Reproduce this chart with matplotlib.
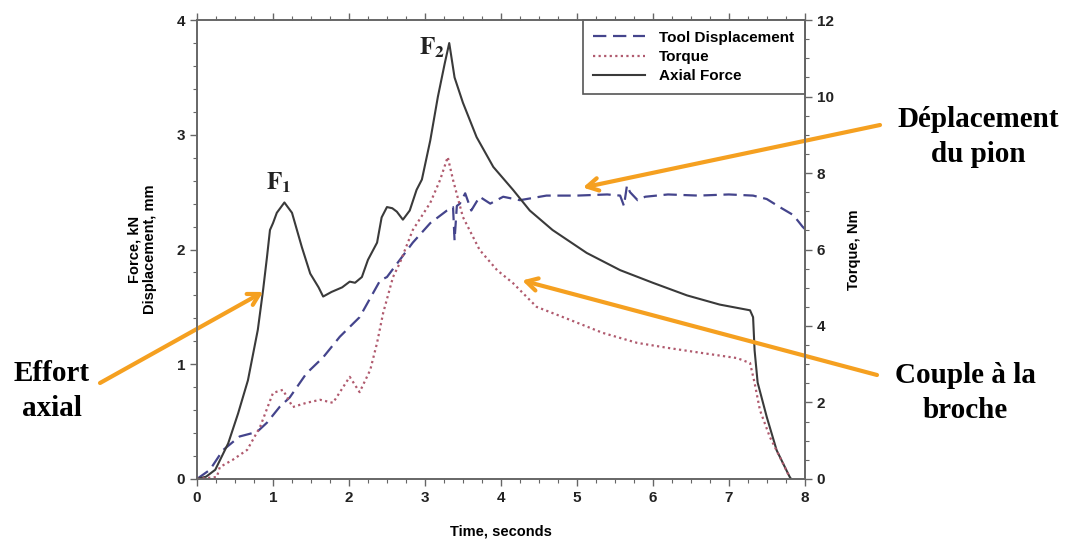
import matplotlib
matplotlib.use('Agg')
import matplotlib.pyplot as plt
from matplotlib.ticker import MultipleLocator

# Axial force (kN) vs time (s)
t_force = [0, 0.12, 0.24, 0.41, 0.54, 0.67, 0.80, 0.87, 0.92, 0.96, 1.0, 1.05, 1.15,
           1.25, 1.38, 1.49, 1.60, 1.66, 1.77, 1.91, 2.01, 2.08, 2.17, 2.25, 2.37,
           2.43, 2.50, 2.57, 2.63, 2.71, 2.80, 2.89, 2.96, 3.07, 3.17, 3.26, 3.32,
           3.39, 3.50, 3.68, 3.90, 4.16, 4.38, 4.68, 5.13, 5.57, 6.0, 6.45, 6.88,
           7.28, 7.32, 7.34, 7.38, 7.50, 7.63, 7.80, 7.82]
force = [0, 0.02, 0.08, 0.31, 0.57, 0.86, 1.30, 1.65, 1.93, 2.17, 2.23, 2.32, 2.41,
         2.32, 2.02, 1.79, 1.67, 1.59, 1.63, 1.67, 1.72, 1.71, 1.76, 1.91, 2.06,
         2.28, 2.37, 2.36, 2.33, 2.26, 2.34, 2.52, 2.61, 2.95, 3.33, 3.62, 3.80,
         3.50, 3.28, 2.98, 2.72, 2.52, 2.34, 2.17, 1.97, 1.82, 1.71, 1.60, 1.52,
         1.47, 1.41, 1.12, 0.84, 0.54, 0.25, 0.02, 0.0]

# Tool displacement (mm)
t_disp = [0, 0.17, 0.34, 0.56, 0.79, 0.92, 1.09, 1.22, 1.44, 1.66, 1.88, 2.14, 2.41,
          2.50, 2.67, 2.84, 3.07, 3.29, 3.37, 3.39, 3.42, 3.46, 3.53, 3.61, 3.72,
          3.86, 4.03, 4.25, 4.6, 5.0, 5.4, 5.57, 5.62, 5.66, 5.70, 5.8, 5.9, 6.2,
          6.6, 7.0, 7.32, 7.5, 7.67, 7.85, 7.97, 8.0]
disp = [0, 0.08, 0.25, 0.37, 0.41, 0.49, 0.63, 0.71, 0.92, 1.06, 1.24, 1.41, 1.73,
        1.76, 1.91, 2.06, 2.23, 2.34, 2.37, 2.08, 2.38, 2.40, 2.49, 2.34, 2.46,
        2.40, 2.46, 2.43, 2.47, 2.47, 2.48, 2.47, 2.38, 2.56, 2.50, 2.43, 2.46, 2.48,
        2.47, 2.48, 2.47, 2.44, 2.37, 2.30, 2.20, 2.18]

# Torque (Nm)
t_torque = [0, 0.26, 0.30, 0.47, 0.66, 0.83, 1.0, 1.13, 1.26, 1.44, 1.62, 1.79, 2.01,
            2.14, 2.28, 2.37, 2.45, 2.58, 2.67, 2.84, 3.07, 3.20, 3.30, 3.37, 3.50,
            3.72, 3.95, 4.16, 4.34, 4.47, 4.91, 5.34, 5.79, 6.22, 6.66, 7.11, 7.28,
            7.34, 7.41, 7.54, 7.71, 7.80]
torque = [0, 0.05, 0.31, 0.50, 0.76, 1.36, 2.25, 2.33, 1.88, 1.99, 2.07, 1.99, 2.67,
          2.27, 2.85, 3.56, 4.34, 5.28, 5.65, 6.51, 7.22, 7.82, 8.42, 7.82, 6.85,
          5.99, 5.46, 5.12, 4.76, 4.50, 4.16, 3.82, 3.56, 3.42, 3.29, 3.16, 3.03,
          2.51, 1.80, 1.10, 0.42, 0.05]

plt.rcParams['font.family'] = ['Liberation Sans', 'DejaVu Sans']
plt.rcParams['font.weight'] = 'bold'
plt.rcParams['mathtext.fontset'] = 'stix'

fig = plt.figure(figsize=(10.68, 5.43), dpi=100)
ax = fig.add_axes([0.1845, 0.118, 0.569, 0.845])
ax2 = ax.twinx()

l1, = ax.plot(t_disp, disp, color='#44448c', lw=1.6, ls=(0, (6, 3)), label='Tool Displacement')
l2, = ax2.plot(t_torque, torque, color='#b05a6e', lw=1.6, ls=(0, (1, 1.5)), label='Torque')
l3, = ax.plot(t_force, force, color='#3a3a3a', lw=1.5, label='Axial Force')

ax.set_xlim(0, 8)
ax.set_ylim(0, 4)
ax2.set_ylim(0, 12)
ax.xaxis.set_major_locator(MultipleLocator(1))
ax.xaxis.set_minor_locator(MultipleLocator(0.25))
ax.yaxis.set_major_locator(MultipleLocator(1))
ax.yaxis.set_minor_locator(MultipleLocator(0.2))
ax2.yaxis.set_major_locator(MultipleLocator(2))
ax2.yaxis.set_minor_locator(MultipleLocator(0.5))

for a in (ax, ax2):
    for s in a.spines.values():
        s.set_color('#666666')
        s.set_linewidth(1.2)
    a.tick_params(which='both', colors='#666666', labelcolor='#222222', labelsize=11)
    a.tick_params(which='major', length=5, width=1)
    a.tick_params(which='minor', length=3, width=0.8)
ax.tick_params(axis='x', which='both', top=True)

ax.set_xlabel('Time, seconds', fontsize=10.5, fontweight='bold', labelpad=14)
ax.set_ylabel('Force, kN\nDisplacement, mm', fontsize=10.5, fontweight='bold', labelpad=14)
ax2.set_ylabel('Torque, Nm', fontsize=10.5, fontweight='bold', labelpad=10)

leg = ax.legend(handles=[l1, l2, l3], loc='upper right', borderaxespad=0,
                fancybox=False, framealpha=1, edgecolor='#555555', fontsize=11,
                handlelength=3.4, handletextpad=0.9, borderpad=0.7, labelspacing=0.35)
leg.get_frame().set_linewidth(1.2)

ax.text(1.07, 2.58, r'$\mathbf{F_1}$', fontsize=18, ha='center', va='center', color='#222222')
ax.text(3.09, 3.76, r'$\mathbf{F_2}$', fontsize=18, ha='center', va='center', color='#222222')

orange = '#f5a020'
arrow = dict(arrowstyle='->,head_length=0.8,head_width=0.45', color=orange, lw=3,
             shrinkA=0, shrinkB=0)
ax.annotate('', xy=(0.87, 1.63), xytext=(100, 160), textcoords='figure pixels',
            arrowprops=arrow, annotation_clip=False)
ax.annotate('', xy=(5.08, 2.54), xytext=(880, 418), textcoords='figure pixels',
            arrowprops=arrow, annotation_clip=False)
ax.annotate('', xy=(4.28, 1.73), xytext=(877, 168), textcoords='figure pixels',
            arrowprops=arrow, annotation_clip=False)

serif = dict(family=['Liberation Serif', 'DejaVu Serif'], fontweight='bold', fontsize=21,
             ha='center', va='center', linespacing=1.4, color='black')
fig.text(52 / 1068, 152 / 543, 'Effort\naxial', **serif)
fig.text(978 / 1068, 406 / 543, 'Déplacement\ndu pion', **serif)
fig.text(965 / 1068, 150 / 543, 'Couple à la\nbroche', **serif)

fig.savefig('out.png', dpi=100)
